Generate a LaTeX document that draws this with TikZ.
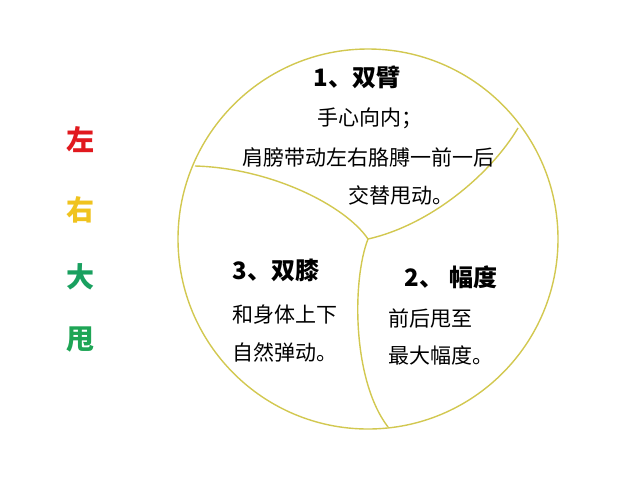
\documentclass[tikz,border=0pt]{standalone}
\usepackage{fontspec}
\setmainfont{Noto Sans CJK SC}
\newfontfamily\cjk{Noto Sans CJK SC}
\definecolor{rimyellow}{RGB}{210,200,80}
\definecolor{zuored}{RGB}{225,25,30}
\definecolor{youyellow}{RGB}{240,195,30}
\definecolor{dagreen}{RGB}{25,160,95}
\definecolor{shuaigreen}{RGB}{30,165,85}
\newcommand{\cx}{368}
\newcommand{\cy}{239}
\newcommand{\rad}{190}

\begin{document}
\begin{tikzpicture}[x=1pt,y=-1pt,
    rim/.style={draw=rimyellow,line width=1.4pt},
    title/.style={font=\cjk\bfseries\fontsize{24}{28}\selectfont,inner sep=0pt},
    body/.style={font=\cjk\fontsize{21}{25}\selectfont,inner sep=0pt,anchor=west},
    side/.style={font=\cjk\bfseries\fontsize{28}{32}\selectfont,inner sep=0pt}]
        \useasboundingbox (0,0) rectangle (640,480);
        \fill[white] (0,0) rectangle (640,480);

        % Draw the big circle and the three dividing curves
        \draw[rim] (\cx,\cy) circle (\rad);
        \coordinate (mid) at (\cx,\cy);
        \coordinate (endA) at (518,128);
        \coordinate (endB) at (195,166);
        \coordinate (endC) at (388,427);
        \draw[rim] (mid) .. controls (430,225) and (490,175) .. (endA);
        \draw[rim] (mid) .. controls (345,205) and (270,168) .. (endB);
        \draw[rim] (mid) .. controls (352,280) and (352,380) .. (endC);

        % Upper part
        \node[title] (arms) at (357,77) {1、双臂};
        \node[body] (armsa) at (317,118) {手心向内；};
        \node[body] (armsb) at (242,157) {肩膀带动左右胳膊一前一后};
        \node[body] (armsc) at (348,195) {交替甩动。};

        % Right part
        \node[title] (range) at (451,277) {2、 幅度};
        \node[body] (rangea) at (388,318) {前后甩至};
        \node[body] (rangeb) at (388,355) {最大幅度。};

        % Left part
        \node[title] (knees) at (276,270) {3、双膝};
        \node[body] (kneesa) at (232,315) {和身体上下};
        \node[body] (kneesb) at (232,352) {自然弹动。};

        % Side characters
        \node[side,text=zuored] (zuo) at (80,140) {左};
        \node[side,text=youyellow] (you) at (80,210) {右};
        \node[side,text=dagreen] (da) at (80,277) {大};
        \node[side,text=shuaigreen] (shuai) at (80,340) {甩};
    \end{tikzpicture}
\end{document}
